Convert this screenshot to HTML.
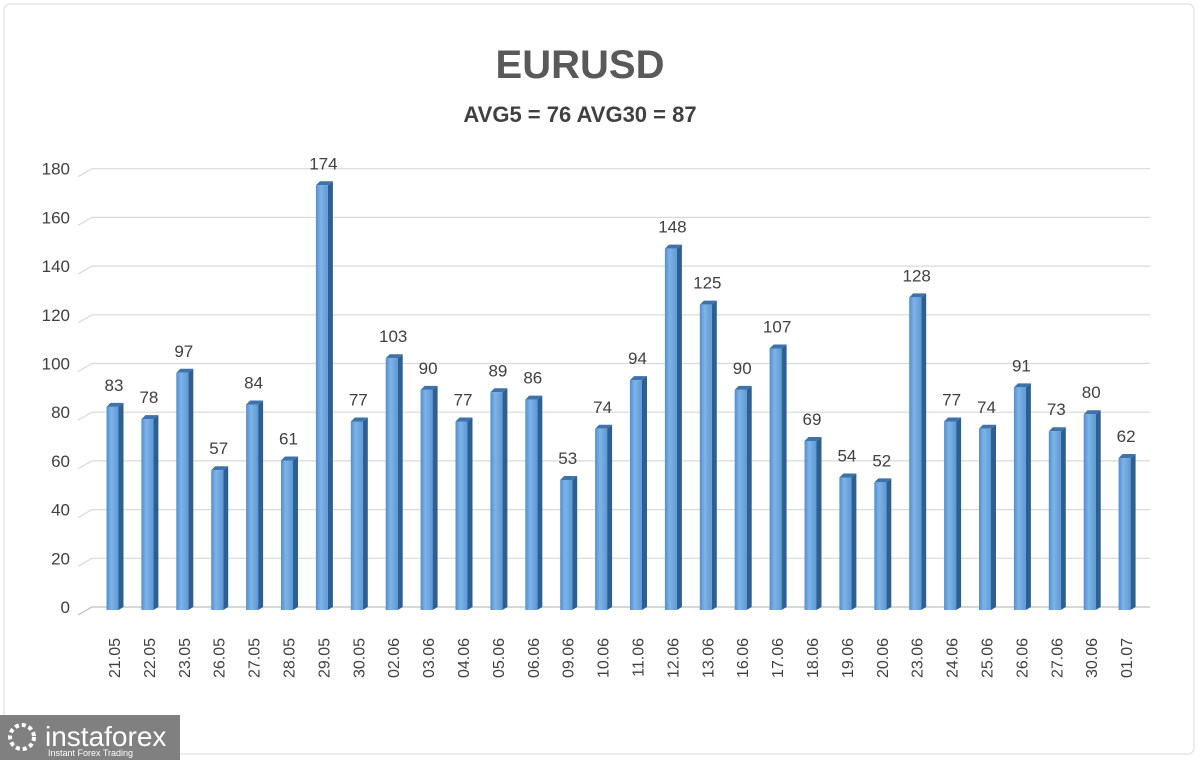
<!DOCTYPE html>
<html><head><meta charset="utf-8"><style>
body{margin:0;background:#fff;width:1200px;height:760px;overflow:hidden;font-family:"Liberation Sans",sans-serif}
</style></head><body>
<svg width="1200" height="760">
<defs>
<linearGradient id="bg" x1="0" x2="1" y1="0" y2="0">
<stop offset="0" stop-color="#4f8fcf"/><stop offset="0.4" stop-color="#7fb3e6"/><stop offset="1" stop-color="#5b9ad8"/>
</linearGradient>
</defs>
<rect x="4" y="4" width="1190" height="750" rx="6" fill="#fff" stroke="#d9d9d9"/>
<text x="580" y="78" text-anchor="middle" font-size="40" font-weight="bold" fill="#595959">EURUSD</text>
<text x="580" y="122" text-anchor="middle" font-size="22" font-weight="bold" fill="#404040">AVG5 = 76 AVG30 = 87</text>
<g id="grid"></g><g id="bars"></g><g id="labels"></g>
<g>
<rect x="0" y="715" width="180" height="45" fill="#808080"/>
<circle cx="22" cy="737" r="12" fill="none" stroke="#fff" stroke-width="4" stroke-dasharray="4 3"/>
<text x="45" y="746" font-size="28" fill="#fff">instaforex</text>
<text x="48" y="756" font-size="9" fill="#fff">Instant Forex Trading</text>
</g>
</svg>
<script>
const categories=["21.05","22.05","23.05","26.05","27.05","28.05","29.05","30.05","02.06","03.06","04.06","05.06","06.06","09.06","10.06","11.06","12.06","13.06","16.06","17.06","18.06","19.06","20.06","23.06","24.06","25.06","26.06","27.06","30.06","01.07"];
const values=[83,78,97,57,84,61,174,77,103,90,77,89,86,53,74,94,148,125,90,107,69,54,52,128,77,74,91,73,80,62];
const yTicks=[0,20,40,60,80,100,120,140,160,180];
const NS="http://www.w3.org/2000/svg";
const y=v=>607-v*2.435;
const x=i=>114+i*34.9;
function mk(t,a,p){const e=document.createElementNS(NS,t);for(const k in a)e.setAttribute(k,a[k]);p.appendChild(e);return e;}
const g=document.getElementById('grid'),b=document.getElementById('bars'),l=document.getElementById('labels');
yTicks.forEach(v=>{
 const ln=mk('polyline',{points:`78,${y(v)+8} 92,${y(v)} 1150,${y(v)}`,fill:'none',stroke:v===0?'#bfbfbf':'#d9d9d9','stroke-width':1.2},g);
 
 
 const t=mk('text',{x:70,y:y(v)+6,'text-anchor':'end','font-size':17,fill:'#404040'},g);t.textContent=v;
 
 
});
values.forEach((v,i)=>{
 const cx=x(i),top=y(v),w=15;
 const grp=mk('g',{},b);
 
 
 mk('polygon',{points:`${cx+w/2-3},${top+2} ${cx+w/2+2},${top-2} ${cx+w/2+2},607 ${cx+w/2-3},610`,fill:'#2f5f8f'},grp);
 mk('polygon',{points:`${cx-w/2},${top+2} ${cx-w/2+4},${top-2} ${cx+w/2+2},${top-2} ${cx+w/2-3},${top+2}`,fill:'#3d73aa'},grp);
 mk('rect',{x:cx-w/2,y:top+2,width:w-3,height:608-top,fill:'url(#bg)'},grp);
 const t=mk('text',{x:cx,y:top-14,'text-anchor':'middle','font-size':17,fill:'#404040'},l);t.textContent=v;
 
 
 const c=mk('text',{x:0,y:0,'text-anchor':'end','font-size':16,fill:'#404040',transform:`translate(${cx+6},${638}) rotate(-90)`},l);c.textContent=categories[i];
 
 
});
</script>
</body></html>
